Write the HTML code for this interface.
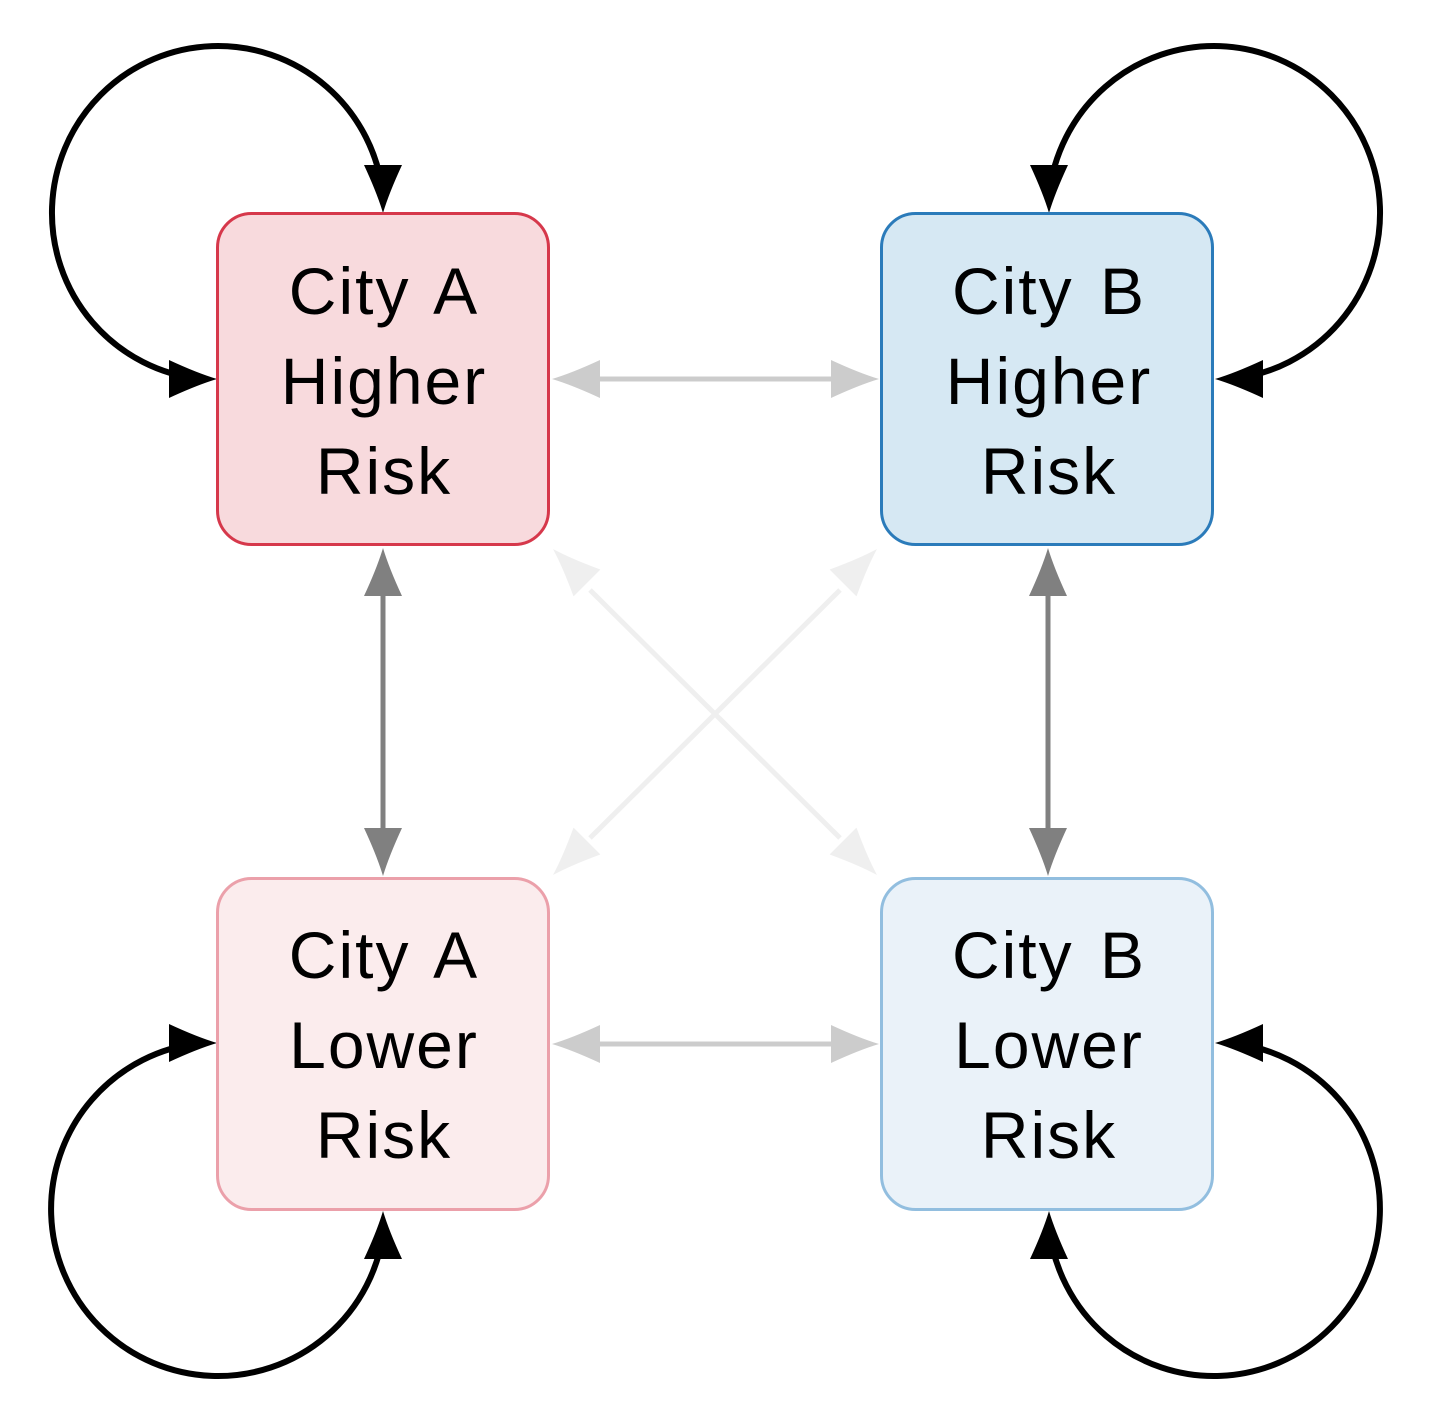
<!DOCTYPE html>
<html><head><meta charset="utf-8"><style>
html,body{margin:0;padding:0;background:#fff;}
svg{display:block;}
text{font-family:"Liberation Sans","DejaVu Sans",sans-serif;font-size:66px;letter-spacing:2px;word-spacing:6px;fill:#000;text-anchor:middle;}
</style></head><body>
<svg width="1433" height="1425" viewBox="0 0 1433 1425" xmlns="http://www.w3.org/2000/svg">
<defs>
<path id="ah" d="M0,0 Q-20,-6 -48,-19 L-48,19 Q-20,6 0,0 z"/>
</defs>
<g stroke-width="5" fill="none">
<line x1="590" y1="590" x2="840" y2="838" stroke="#efefef"/>
<line x1="840" y1="590" x2="590" y2="838" stroke="#efefef"/>
<line x1="590" y1="379" x2="840" y2="379" stroke="#cccccc"/>
<line x1="590" y1="1044" x2="840" y2="1044" stroke="#cccccc"/>
<line x1="383" y1="590" x2="383" y2="835" stroke="#808080"/>
<line x1="1048" y1="590" x2="1048" y2="835" stroke="#808080"/>
</g>
<g fill="#efefef">
<use href="#ah" transform="translate(553,549) rotate(225)"/>
<use href="#ah" transform="translate(877,875) rotate(45)"/>
<use href="#ah" transform="translate(877,549) rotate(315)"/>
<use href="#ah" transform="translate(553,875) rotate(135)"/>
</g>
<g fill="#cccccc">
<use href="#ah" transform="translate(552,379) rotate(180)"/>
<use href="#ah" transform="translate(879,379)"/>
<use href="#ah" transform="translate(552,1044) rotate(180)"/>
<use href="#ah" transform="translate(879,1044)"/>
</g>
<g fill="#808080">
<use href="#ah" transform="translate(383,548) rotate(270)"/>
<use href="#ah" transform="translate(383,876) rotate(90)"/>
<use href="#ah" transform="translate(1048,548) rotate(270)"/>
<use href="#ah" transform="translate(1048,876) rotate(90)"/>
</g>
<g stroke="#000" stroke-width="6" fill="none">
<path d="M200 379 A166 167 0 1 1 383 195"/>
<path d="M1049 195 A166 167 0 1 1 1232 379"/>
<path d="M200 1043 A167 167 0 1 0 384 1228"/>
<path d="M1049 1228 A166 167 0 1 0 1232 1043"/>
</g>
<g fill="#000">
<use href="#ah" transform="translate(383,213) rotate(90)"/>
<use href="#ah" transform="translate(217,379)"/>
<use href="#ah" transform="translate(1049,213) rotate(90)"/>
<use href="#ah" transform="translate(1215,379) rotate(180)"/>
<use href="#ah" transform="translate(383,1211) rotate(270)"/>
<use href="#ah" transform="translate(217,1043)"/>
<use href="#ah" transform="translate(1049,1211) rotate(270)"/>
<use href="#ah" transform="translate(1215,1043) rotate(180)"/>
</g>
<rect x="217.5" y="213.5" width="331" height="331" rx="34" fill="#f8dadd" stroke="#d6384b" stroke-width="3"/>
<rect x="881.5" y="213.5" width="331" height="331" rx="34" fill="#d6e8f3" stroke="#2b7bba" stroke-width="3"/>
<rect x="217.5" y="878.5" width="331" height="331" rx="34" fill="#fbeced" stroke="#eba0aa" stroke-width="3"/>
<rect x="881.5" y="878.5" width="331" height="331" rx="34" fill="#eaf2f9" stroke="#92bedf" stroke-width="3"/>
<text x="384" y="314">City A</text><text x="384" y="404">Higher</text><text x="384" y="494">Risk</text>
<text x="1049" y="314">City B</text><text x="1049" y="404">Higher</text><text x="1049" y="494">Risk</text>
<text x="384" y="978">City A</text><text x="384" y="1068">Lower</text><text x="384" y="1158">Risk</text>
<text x="1049" y="978">City B</text><text x="1049" y="1068">Lower</text><text x="1049" y="1158">Risk</text>
</svg>
</body></html>
